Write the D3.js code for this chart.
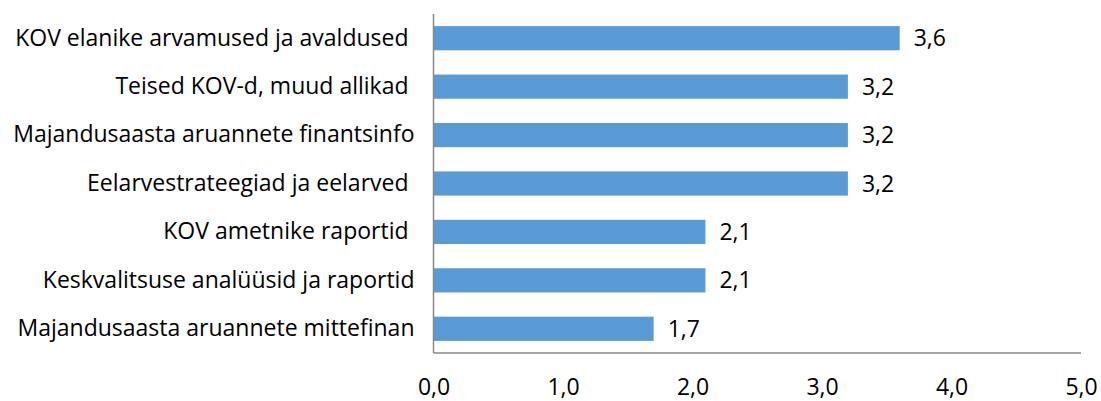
<!DOCTYPE html>
<html>
<head>
<meta charset="utf-8">
<script src="https://cdn.jsdelivr.net/npm/d3@7"></script>
<style>
  html, body { margin: 0; padding: 0; background: #fff; }
  svg text { font-family: "Open Sans", Lato, sans-serif; fill: #000; white-space: pre; font-variant-ligatures: none; }
</style>
</head>
<body>
<svg id="chart" width="1101" height="401"></svg>
<script>
const categories = [
  "KOV elanike arvamused ja avaldused ",
  "Teised KOV-d, muud allikad ",
  "Majandusaasta aruannete finantsinfo",
  "Eelarvestrateegiad ja eelarved ",
  "KOV ametnike raportid ",
  "Keskvalitsuse analüüsid ja raportid",
  "Majandusaasta aruannete mittefinan"
];
const values = [3.6, 3.2, 3.2, 3.2, 2.1, 2.1, 1.7];
const tickValues = [0, 1, 2, 3, 4, 5];

const fmt = v => d3.format(".1f")(v).replace(".", ",");

const svg = d3.select("#chart");
const mLeft = 433.5, mRight = 1081, mTop = 14, mBottom = 353;

const x = d3.scaleLinear().domain([0, 5]).range([mLeft, mRight]);
const y = d3.scaleBand().domain(categories).range([mTop, mBottom]).paddingInner(0.5).paddingOuter(0.25);

const fs = 23;
const ff = "'Open Sans', Lato, sans-serif";

// bars
svg.append("g").selectAll("rect").data(values).join("rect")
  .attr("x", x(0))
  .attr("y", (d, i) => y(categories[i]))
  .attr("width", d => x(d) - x(0))
  .attr("height", y.bandwidth())
  .attr("fill", "#5B9BD5");

// value labels
svg.append("g").selectAll("text").data(values).join("text")
  .attr("x", d => x(d) + 14)
  .attr("y", (d, i) => y(categories[i]) + y.bandwidth() / 2)
  .attr("dy", "0.35em")
  .attr("font-size", fs)
  .attr("font-family", ff)
  .text(d => fmt(d));

// y axis (no ticks)
const yAxis = d3.axisLeft(y).tickSize(0).tickPadding(19);
const gy = svg.append("g").attr("transform", `translate(${mLeft},0)`).call(yAxis);
gy.select(".domain").attr("stroke", "#898989").attr("stroke-width", 1.5).attr("d", `M0,${mTop}V${mBottom}`);
gy.selectAll(".tick text").attr("font-size", fs).attr("font-family", ff).attr("fill", "#000");

// x axis (no ticks)
const xAxis = d3.axisBottom(x).tickValues(tickValues).tickSize(0).tickPadding(26).tickFormat(fmt);
const gx = svg.append("g").attr("transform", `translate(0,${mBottom})`).call(xAxis);
gx.select(".domain").attr("stroke", "#898989").attr("stroke-width", 1.5).attr("d", `M${mLeft},0H${mRight}`);
gx.selectAll(".tick text").attr("font-size", fs).attr("font-family", ff).attr("fill", "#000");
</script>
</body>
</html>
